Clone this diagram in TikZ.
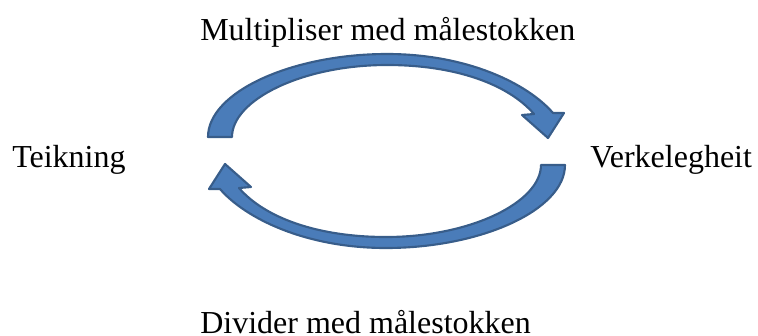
\documentclass[tikz,border=0pt]{standalone}
\usepackage{fontspec}
\setmainfont{Liberation Serif}
\definecolor{arrowfill}{RGB}{74,124,185}
\definecolor{arrowedge}{RGB}{56,93,138}
\tikzset{
  label text/.style={font=\fontsize{24}{28}\selectfont, inner sep=0pt, anchor=base west},
  block arrow/.style={fill=arrowfill, draw=arrowedge, line width=1.6pt, line join=round},
}
\newcommand{\curvedblockarrow}{%
  (208,137) .. controls (208,92) and (292,54) .. (387,54)
  .. controls (468,54) and (528,84) .. (553,113)
  -- (564,113) -- (548,138) -- (522,115) -- (534,114)
  .. controls (508,84) and (455,65) .. (387,65)
  .. controls (302,65) and (232,100) .. (232,137) -- cycle}
\begin{document}
\begin{tikzpicture}[x=0.75pt, y=-0.75pt]
  \useasboundingbox (0,0) rectangle (758,336);
  % upper arrow: drawing -> reality
  \path[block arrow] \curvedblockarrow;
  % lower arrow: same shape turned half a turn
  \begin{scope}[rotate around={180:(386.5,151)}]
    \path[block arrow] \curvedblockarrow;
  \end{scope}
  \node[label text] (mul) at (200,40) {Multipliser med målestokken};
  \node[label text] (teik) at (12,167) {Teikning};
  \node[label text] (verk) at (590,167) {Verkelegheit};
  \node[label text] (div) at (200,333) {Divider med målestokken};
\end{tikzpicture}
\end{document}
